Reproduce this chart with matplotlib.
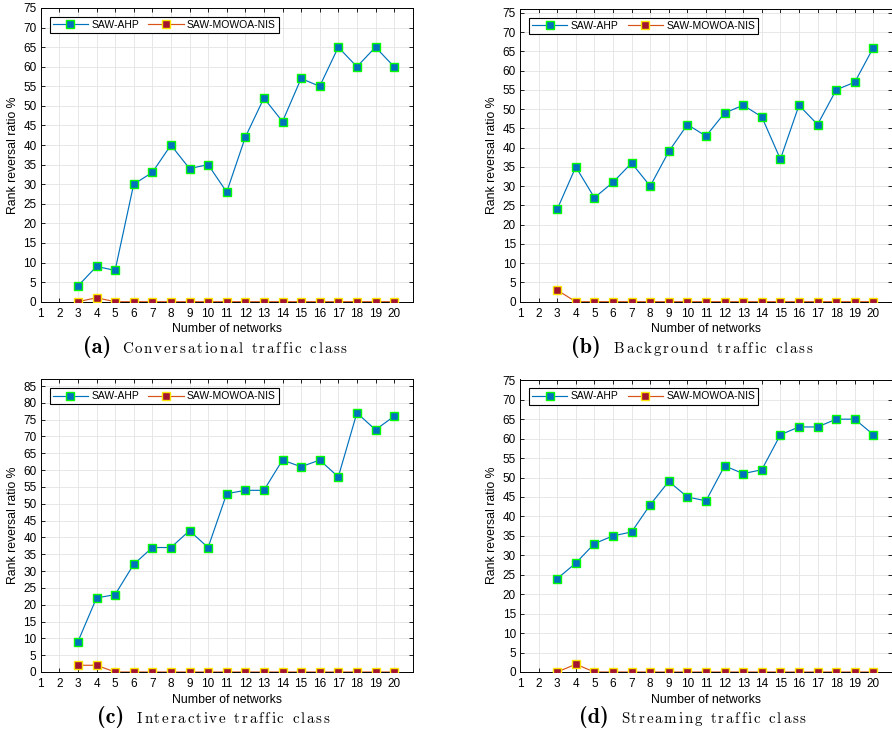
import numpy as np
import matplotlib
matplotlib.use("Agg")
import matplotlib.pyplot as plt
from matplotlib.font_manager import FontProperties
from matplotlib.textpath import text_to_path

# ── Data ─────────────────────────────────────────────────────────────────────
networks = list(range(3, 21))

conv_ahp = [4, 9, 8, 30, 33, 40, 34, 35, 28, 42, 52, 46, 57, 55, 65, 60, 65, 60]
conv_nis = [0, 1, 0, 0, 0, 0, 0, 0, 0, 0, 0, 0, 0, 0, 0, 0, 0, 0]

back_ahp = [24, 35, 27, 31, 36, 30, 39, 46, 43, 49, 51, 48, 37, 51, 46, 55, 57, 66]
back_nis = [3, 0, 0, 0, 0, 0, 0, 0, 0, 0, 0, 0, 0, 0, 0, 0, 0, 0]

inter_ahp = [9, 22, 23, 32, 37, 37, 42, 37, 53, 54, 54, 63, 61, 63, 58, 77, 72, 76]
inter_nis = [2, 2, 0, 0, 0, 0, 0, 0, 0, 0, 0, 0, 0, 0, 0, 0, 0, 0]

stream_ahp = [24, 28, 33, 35, 36, 43, 49, 45, 44, 53, 51, 52, 61, 63, 63, 65, 65, 61]
stream_nis = [0, 2, 0, 0, 0, 0, 0, 0, 0, 0, 0, 0, 0, 0, 0, 0, 0, 0]

panels = [
    ("(a)", "Conversational traffic class", conv_ahp, conv_nis, 75),
    ("(b)", "Background traffic class", back_ahp, back_nis, 76),
    ("(c)", "Interactive traffic class", inter_ahp, inter_nis, 87),
    ("(d)", "Streaming traffic class", stream_ahp, stream_nis, 75.2),
]

W, H = 892, 733
plt.rcParams["font.family"] = ["Liberation Sans", "DejaVu Sans"]

fig = plt.figure(figsize=(W / 100, H / 100), dpi=100)

# axes boxes in pixels: left, right, top, bottom
boxes = [(40.7, 412.7, 8.0, 301.7),
         (520.0, 892.0, 9.0, 301.7),
         (40.7, 412.7, 379.3, 672.0),
         (520.0, 892.0, 379.5, 672.0)]

# caption anchors in pixels: tag x, text x, baseline y
captions = [(83, 122, 353), (571, 614, 353), (97, 137, 723), (579, 621, 723)]

cap_fp = FontProperties(family="cmr10", size=10.8)
TRACK = 1.75  # extra px between letters (letter-spaced caption)


def px_width(s):
    w, _, _ = text_to_path.get_text_width_height_descent(s, cap_fp, ismath=False)
    return w * 100 / 72


def spaced_text(x0, y0, s):
    """Draw a letter-spaced string starting at pixel x0, baseline y0."""
    space = px_width("n") * 0.62
    x = x0
    for word in s.split(" "):
        for i, ch in enumerate(word):
            xi = x + (px_width(word[:i]) if i else 0) + i * TRACK
            fig.text(xi / W, 1 - y0 / H, ch, fontproperties=cap_fp,
                     ha="left", va="baseline")
        x += px_width(word) + len(word) * TRACK + space + TRACK


for (tag, name, ahp, nis, ymax), (l, r, t, b), (tx, nx, cy) in zip(panels, boxes, captions):
    ax = fig.add_axes([l / W, 1 - b / H, (r - l) / W, (b - t) / H])

    ax.plot(networks, ahp, color="#0072BD", linewidth=0.85, marker="s",
            markersize=5.6, markerfacecolor="#0072BD", markeredgecolor="#00FF00",
            markeredgewidth=1.0, label="SAW-AHP", zorder=3)
    ax.plot(networks, nis, color="#D95319", linewidth=0.85, marker="s",
            markersize=5.6, markerfacecolor="#A2142F", markeredgecolor="#FFE600",
            markeredgewidth=1.0, label="SAW-MOWOA-NIS", zorder=3)

    ax.set_xlim(1, 21)
    ax.set_ylim(0, ymax)
    ax.set_xticks(range(1, 21))
    top = 85 if ymax > 80 else 75
    ax.set_yticks(np.arange(0, top + 1, 5))
    ax.tick_params(direction="in", length=3, width=0.6, labelsize=8.5,
                   top=True, right=True)
    ax.tick_params(axis="x", pad=4.5)
    ax.tick_params(axis="y", pad=3)
    ax.grid(True, color="#e3e3e3", linewidth=0.6)
    ax.set_axisbelow(True)
    for s in ax.spines.values():
        s.set_linewidth(0.7)

    ax.set_xlabel("Number of networks", fontsize=8.8, labelpad=2.5)
    ax.set_ylabel("Rank reversal ratio %", fontsize=8.8, labelpad=3)

    ax.legend(loc="upper left", bbox_to_anchor=(0.024, 0.97), ncol=2,
              fontsize=7.5, frameon=True, fancybox=False, edgecolor="black",
              framealpha=1, handlelength=3.4, columnspacing=0.9,
              handletextpad=0.3, borderpad=0.3, borderaxespad=0)
    ax.get_legend().get_frame().set_linewidth(0.8)

    fig.text(tx / W, 1 - cy / H, tag, family="cmb10", fontsize=16,
             ha="left", va="baseline")
    spaced_text(nx, cy, name)

fig.savefig("out.png", dpi=100)
